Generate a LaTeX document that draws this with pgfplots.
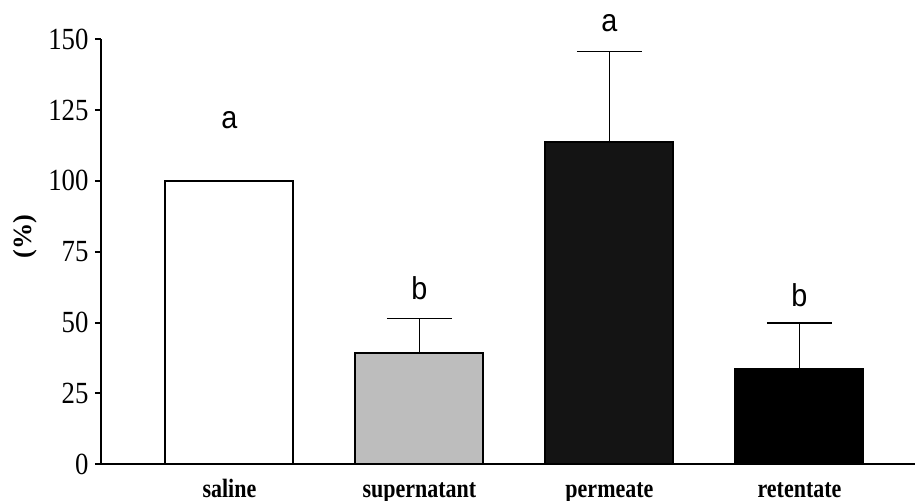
\documentclass[border=0pt]{standalone}
\usepackage{pgfplots}
\pgfplotsset{compat=1.18}
\usepackage{fontspec}
\setmainfont{Liberation Serif}
\newfontfamily\lettersf{Liberation Sans}
\definecolor{supfill}{gray}{0.74}
\definecolor{perfill}{gray}{0.08}
\begin{document}
\begin{tikzpicture}
\useasboundingbox (-40.4pt,-14.7pt) rectangle (327.2pt,185.7pt);
\begin{axis}[
  at={(0,0)}, anchor=south west,
  scale only axis, width=325.6pt, height=170pt,
  xmin=-0.676, xmax=3.608, ymin=0, ymax=150,
  axis lines*=left, axis line style={line width=0.8pt},
  clip=false,
  xtick={0,1,2,3}, xticklabels={saline,supernatant,permeate,retentate},
  x tick style={draw=none},
  ytick={0,25,...,150}, tick align=outside, major tick length=2.4pt,
  y tick style={line width=0.8pt, black},
  /pgf/number format/assume math mode=true,
  yticklabel style={font=\fontsize{10.7}{12}\selectfont, anchor=east, inner sep=0pt, xshift=-2.4pt, yscale=1.15},
  xticklabel style={font=\bfseries\fontsize{8.8}{10}\selectfont, anchor=base, inner sep=0pt, yshift=-11pt, yscale=1.2},
  ylabel={(\%)},
  ylabel style={font=\bfseries\fontsize{10.5}{12}\selectfont, at={(axis description cs:-0.0934,0.535)}, anchor=center},
  ybar, bar width=51.2pt, bar shift=0pt,
  error bars/y dir=plus, error bars/y explicit,
  error bars/error mark=-,
  error bars/error bar style={line width=0.6pt, black},
  error bars/error mark options={line width=0.6pt, mark size=13pt, black, rotate=90},
]
% saline (reference level, no error bar)
\addplot[draw=black, line width=0.8pt, fill=white, error bars/y dir=none] coordinates {(0,100)};
% supernatant
\addplot[draw=black, line width=0.8pt, fill=supfill] coordinates {(1,39.2) +- (0,12.3)};
% permeate
\addplot[draw=black, line width=0.8pt, fill=perfill] coordinates {(2,113.9) +- (0,31.7)};
% retentate
\addplot[draw=black, line width=0.8pt, fill=black] coordinates {(3,33.5) +- (0,16.3)};

% significance letters
\begin{scope}[every node/.style={font=\lettersf\fontsize{11.5}{13}\selectfont, yscale=1.1}]
\node at (axis cs:0,121.5) {a};
\node at (axis cs:1,62.3) {b};
\node at (axis cs:2,155.8) {a};
\node at (axis cs:3,59.8) {b};
\end{scope}
\end{axis}
\end{tikzpicture}
\end{document}
